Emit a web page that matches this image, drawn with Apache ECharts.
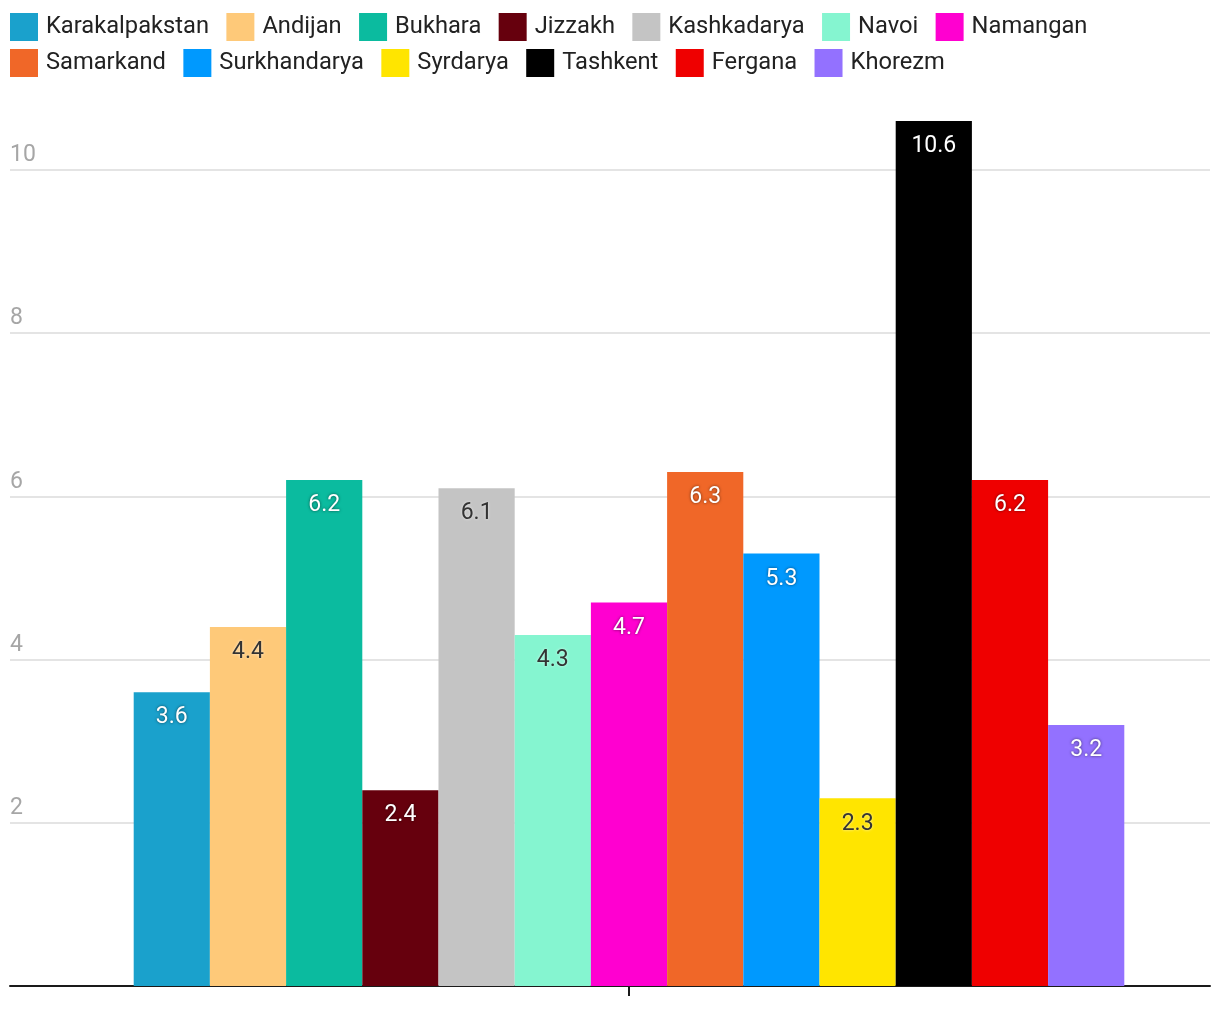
<!DOCTYPE html>
<html>
<head>
<meta charset="utf-8">
<script src="https://cdn.jsdelivr.net/npm/echarts@6/dist/echarts.min.js"></script>
<style>
html,body{margin:0;padding:0;background:#fff;}
#chart{width:1220px;height:1020px;}
</style>
</head>
<body>
<div id="chart"></div>
<script>
const regions = ['Karakalpakstan','Andijan','Bukhara','Jizzakh','Kashkadarya','Navoi','Namangan','Samarkand','Surkhandarya','Syrdarya','Tashkent','Fergana','Khorezm'];
const values = [3.6,4.4,6.2,2.4,6.1,4.3,4.7,6.3,5.3,2.3,10.6,6.2,3.2];
const yTicks = [0,2,4,6,8,10];
const palette = ['#1aa1cc','#fec979','#0bbb9f','#66000d','#c4c4c4','#85f5d0','#ff00d0','#f06728','#0099fe','#ffe500','#000000','#ef0000','#9371ff'];
const legendRow1 = regions.slice(0, 7);
const legendRow2 = regions.slice(7);

function isLight(hex){
  const r=parseInt(hex.substr(1,2),16),g=parseInt(hex.substr(3,2),16),b=parseInt(hex.substr(5,2),16);
  return (0.299*r+0.587*g+0.114*b) > 175;
}

const chart = echarts.init(document.getElementById('chart'));
const FONT = 'Roboto';
const gridTop = 88.4, gridBottom = 34;

const series = regions.map((name,i)=>{
  const light = isLight(palette[i]);
  return {
    name: name,
    type: 'bar',
    xAxisIndex: 1,
    yAxisIndex: 1,
    barWidth: 76.2,
    barGap: '0%',
    data: [values[i]],
    itemStyle: {color: palette[i]},
    label: {
      show: true,
      position: 'insideTop',
      distance: 14,
      fontFamily: FONT,
      fontSize: 23,
      color: light ? '#333333' : '#ffffff',
      textShadowColor: light ? 'rgba(255,255,255,0.7)' : 'rgba(0,0,0,0.6)',
      textShadowBlur: 3,
      formatter: p => p.value.toFixed(1)
    }
  };
});

function legendRow(data, top){
  return {
    left: 10, top: top, padding: 0,
    itemWidth: 28, itemHeight: 28, itemGap: 17.4,
    icon: 'rect',
    textStyle: {fontFamily: FONT, fontSize: 23.7, color: '#222222', padding: [0,0,0,3]},
    data: data
  };
}

chart.setOption({
  animation: false,
  color: palette,
  textStyle: {fontFamily: FONT},
  legend: [legendRow(legendRow1, 13), legendRow(legendRow2, 49)],
  grid: [
    {left: 10, right: 10, top: gridTop, bottom: gridBottom, containLabel: false, outerBoundsMode: 'none'},
    {left: 48, right: 10, top: gridTop, bottom: gridBottom, containLabel: false, outerBoundsMode: 'none'}
  ],
  xAxis: [
    {gridIndex: 0, type: 'category', data: [''],
     axisLine: {show: true, lineStyle: {color: '#1a1a1a', width: 2}},
     axisTick: {show: false}, axisLabel: {show: false}, splitLine: {show: false}},
    {gridIndex: 1, type: 'category', data: [''],
     axisLine: {show: false},
     axisTick: {show: true, alignWithLabel: true, length: 10, lineStyle: {color: '#1a1a1a', width: 2}},
     axisLabel: {show: false}, splitLine: {show: false}}
  ],
  yAxis: [
    {gridIndex: 0, type: 'value', min: 0, max: 11, interval: 2,
     axisLine: {show: false}, axisTick: {show: false},
     splitLine: {show: true, showMinLine: false, showMaxLine: false, lineStyle: {color: '#e4e4e4', width: 2}},
     axisLabel: {inside: true, margin: 0, align: 'left', verticalAlign: 'bottom',
       showMinLabel: false, showMaxLabel: false,
       padding: [0,0,3,0], fontFamily: FONT, fontSize: 23, color: '#a6a6a6',
       formatter: v => (yTicks.indexOf(v) > 0 ? String(v) : '')}},
    {gridIndex: 1, type: 'value', min: 0, max: 11, interval: 2, show: false,
     splitLine: {show: false}}
  ],
  series: series
});
</script>
</body>
</html>
